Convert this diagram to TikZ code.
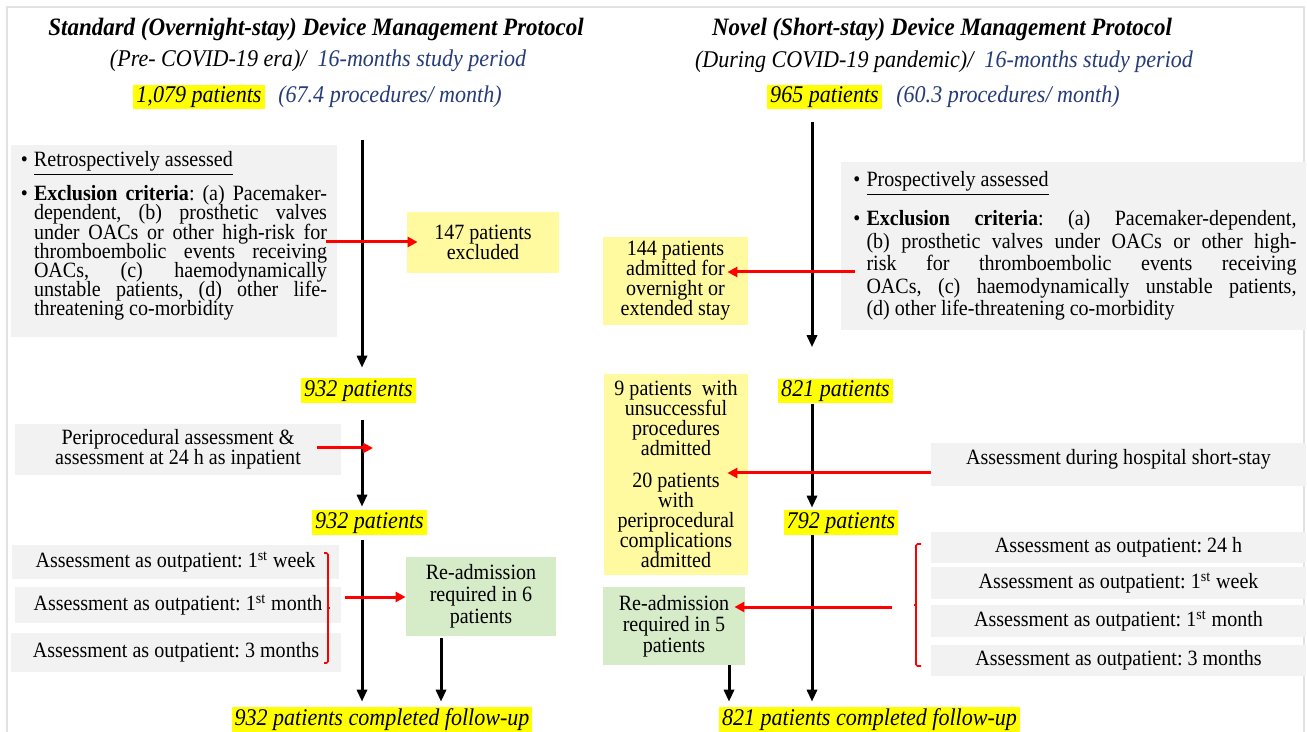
\documentclass[tikz,border=0pt]{standalone}
\usepackage{fontspec}
\setmainfont{Liberation Serif}[FakeStretch=0.92]
\usetikzlibrary{arrows.meta}

\definecolor{boxgrey}{RGB}{242,242,242}
\definecolor{noteyellow}{RGB}{255,250,160}
\definecolor{marker}{RGB}{255,255,0}
\definecolor{readgreen}{RGB}{214,236,200}
\definecolor{navy}{RGB}{38,60,120}
\definecolor{edgegrey}{RGB}{226,226,226}

% bullet hanging in the left skip
\newcommand{\bul}{\noindent\llap{\textbullet\hspace{3pt}}}
\frenchspacing

\begin{document}
\begin{tikzpicture}[x=0.5pt,y=-0.5pt,
    every node/.style={font=\fontsize{10.9}{10}\selectfont},
    head/.style={font=\fontsize{12.5}{12}\selectfont\bfseries\itshape},
    sub/.style={font=\fontsize{12}{12}\selectfont\itshape},
    count/.style={fill=marker,inner xsep=1.5pt,inner ysep=0.5pt,text height=8.6pt,text depth=2.8pt,
        font=\fontsize{12}{12}\selectfont\itshape},
    greybox/.style={fill=boxgrey,inner sep=0pt,align=center},
    note/.style={fill=noteyellow,inner sep=0pt,align=center},
    readmit/.style={fill=readgreen,inner sep=0pt,align=center},
    flow/.style={line width=1.5pt,-{Triangle[length=6pt,width=5pt]}},
    side/.style={red,line width=1.5pt,-{Triangle[length=5pt,width=5pt]}},
    brace/.style={red,line width=0.8pt,rounded corners=0.8pt}]

    \useasboundingbox[fill=white] (0,0) rectangle (1307,732);
    \draw[edgegrey,line width=0.6pt] (7,760) -- (7,7) -- (1304,7) -- (1304,760);

    % standard protocol
    \node[head] (headL) at (316,30) {Standard (Overnight-stay) Device Management Protocol};
    \node[sub] (eraL) at (318,61) {(Pre- COVID-19 era)/\ \ \textcolor{navy}{16-months study period}};
    \node[count] (startL) at (199,97) {1,079 patients};
    \node[sub,text=navy] (rateL) at (390,97) {(67.4 procedures/ month)};

    \node[greybox,minimum width=163pt,minimum height=96pt,text width=153pt,align=justify] (exclL) at (174,241) {%
        \baselineskip=9.6pt\lineskiplimit=-10pt\leftskip=6.5pt\tolerance=10000
        \bul\underline{Retrospectively assessed}\par\vspace{7.5pt}
        \bul\textbf{Exclusion criteria}: (a) Pacemaker-\linebreak dependent, (b) prosthetic valves\linebreak
        under OACs or other high-risk for\linebreak thromboembolic events receiving\linebreak
        OACs, (c) haemodynamically\linebreak unstable patients, (d) other life-\linebreak
        threatening co-morbidity\par\nointerlineskip\vspace{5pt}\hrule height 0pt};
    \node[note,minimum width=76pt,minimum height=30.5pt] (outL) at (483,242.5) {147 patients\\excluded};

    \node[count] (midL) at (358.5,390.5) {932 patients};
    \node[greybox,minimum width=163pt,minimum height=25.5pt] (periL) at (178,449.5)
        {Periprocedural assessment \&\\assessment at 24 h as inpatient};
    \node[count] (keptL) at (369.5,522.5) {932 patients};

    \node[greybox,minimum width=163.5pt,minimum height=17pt] (weekL) at (175.5,562)
        {Assessment as outpatient: 1\textsuperscript{st} week};
    \node[greybox,minimum width=163pt,minimum height=18pt] (monthL) at (178,605)
        {Assessment as outpatient: 1\textsuperscript{st} month};
    \node[greybox,minimum width=165pt,minimum height=19.5pt] (threeL) at (176,652.5)
        {Assessment as outpatient: 3 months};
    \node[readmit,minimum width=75pt,minimum height=39.5pt,font=\fontsize{10.9}{11}\selectfont] (readL) at (481,596.5)
        {Re-admission\\required in 6\\patients};
    \node[count] (doneL) at (382,719.5) {932 patients completed follow-up};

    \coordinate (l0) at (362,140);
    \coordinate (l1) at (362,420);
    \coordinate (l2) at (362,540);
    \coordinate (l3) at (441,638);
    \draw[flow,shorten >=5pt] (l0) -- (l0 |- midL.north);
    \draw[flow,shorten >=1.5pt] (l1) -- (l1 |- keptL.north);
    \draw[flow,shorten >=2.5pt] (l2) -- (l2 |- doneL.north);
    \draw[flow,shorten >=2.5pt] (l3) -- (l3 |- doneL.north);

    \coordinate (eL) at (326,242);
    \draw[side,shorten >=-5.5pt] (eL) -- (eL -| outL.west);
    \coordinate (pL) at (317,448);
    \coordinate (pTip) at (373,448);
    \draw[side] (pL) -- (pTip);
    \draw[brace] (324,553) -- (328,553) -- (328,663) -- (324,663);
    \draw[brace] (328,608) -- (330,608);
    \coordinate (bL) at (345,597);
    \draw[side] (bL) -- (bL -| readL.west);

    % short-stay protocol
    \node[head] (headR) at (942,30) {Novel (Short-stay) Device Management Protocol};
    \node[sub] (eraR) at (944,62) {(During COVID-19 pandemic)/\ \ \textcolor{navy}{16-months study period}};
    \node[count] (startR) at (824.5,97) {965 patients};
    \node[sub,text=navy] (rateR) at (1008,97) {(60.3 procedures/ month)};

    \node[greybox,minimum width=232.5pt,minimum height=84pt,text width=223pt,align=justify] (exclR) at (1073.5,246) {%
        \baselineskip=11.2pt\leftskip=8pt\tolerance=10000
        \bul\underline{Prospectively assessed}\par\vspace{6.5pt}
        \bul\textbf{Exclusion criteria}: (a) Pacemaker-dependent,\linebreak
        (b) prosthetic valves under OACs or other high-\linebreak risk for thromboembolic events receiving\linebreak
        OACs, (c) haemodynamically unstable patients,\linebreak (d) other life-threatening co-morbidity\par};
    \node[note,minimum width=72.5pt,minimum height=44pt] (admR) at (675.5,281)
        {144 patients\\admitted for\\overnight or\\extended stay};

    \node[count] (midR) at (835.5,391) {821 patients};
    \node[note,minimum width=72pt,minimum height=100.5pt] (tallR) at (676,474.5)
        {9 patients\ \ with\\unsuccessful\\procedures\\admitted\\[6pt]20 patients\\with\\periprocedural\\complications\\admitted};
    \node[greybox,minimum width=187.5pt,minimum height=21.5pt,text height=7.5pt,text depth=7.5pt] (stayR) at (1118.5,464.5)
        {Assessment during hospital short-stay};
    \node[count] (keptR) at (841,522.5) {792 patients};

    \node[greybox,minimum width=187.5pt,minimum height=15.5pt] (dayR) at (1118.5,547.5)
        {Assessment as outpatient: 24 h};
    \node[greybox,minimum width=187.5pt,minimum height=16pt] (weekR) at (1118.5,583)
        {Assessment as outpatient: 1\textsuperscript{st} week};
    \node[greybox,minimum width=187.5pt,minimum height=16pt] (monthR) at (1118.5,621)
        {Assessment as outpatient: 1\textsuperscript{st} month};
    \node[greybox,minimum width=187.5pt,minimum height=15.5pt] (threeR) at (1118.5,660.5)
        {Assessment as outpatient: 3 months};
    \node[readmit,minimum width=71pt,minimum height=39pt,font=\fontsize{10.9}{10.5}\selectfont] (readR) at (674,626)
        {Re-admission\\required in 5\\patients};
    \node[count] (doneR) at (869.5,719.5) {821 patients completed follow-up};

    \coordinate (r0) at (812,122);
    \coordinate (r3) at (729,665);
    \draw[flow,shorten >=15.5pt] (r0) -- (r0 |- midR.north);
    \draw[flow,shorten >=1pt] (midR.south -| r0) -- (r0 |- keptR.north);
    \draw[flow,shorten >=2.5pt] (keptR.south -| r0) -- (r0 |- doneR.north);
    \draw[flow,shorten >=2.5pt] (r3) -- (r3 |- doneR.north);

    \coordinate (eR) at (855,272);
    \draw[side,shorten >=-10.5pt] (eR) -- (eR -| admR.east);
    \coordinate (sR) at (931,473);
    \draw[side,shorten >=-10.5pt] (sR) -- (sR -| tallR.east);
    \draw[brace] (921,544) -- (916,544) -- (916,666) -- (921,666);
    \draw[brace] (916,605) -- (914,605);
    \coordinate (bR) at (892,607);
    \draw[side,shorten >=-5.5pt] (bR) -- (bR -| readR.east);
\end{tikzpicture}
\end{document}
